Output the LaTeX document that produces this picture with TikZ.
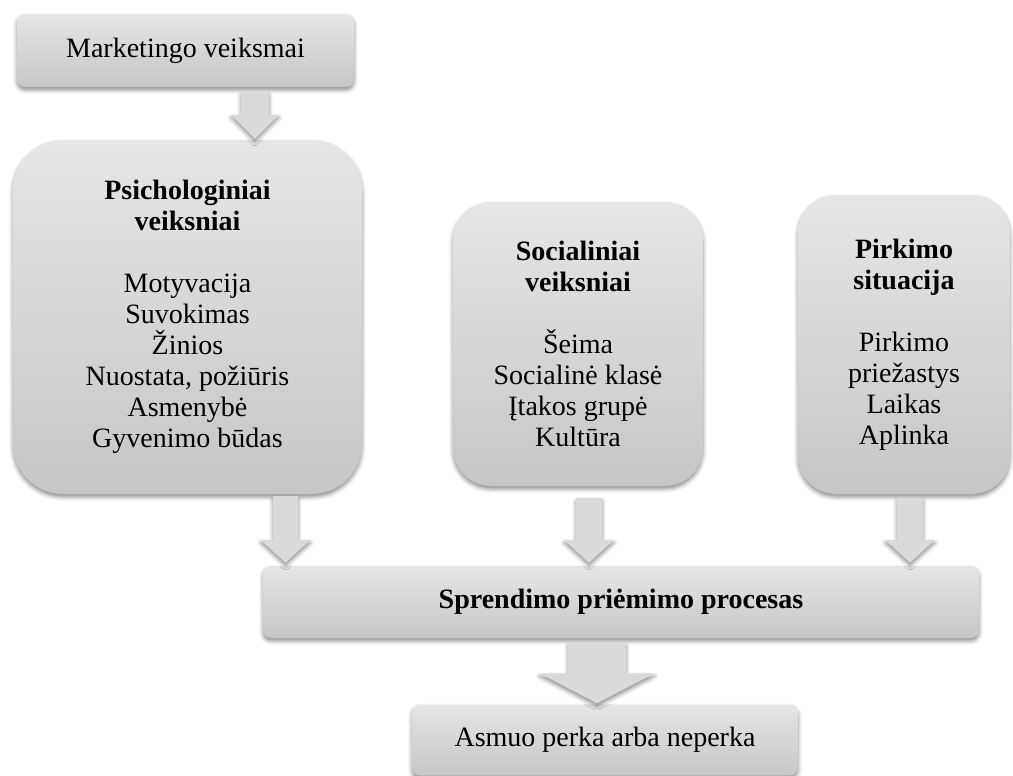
\documentclass[tikz,border=0pt]{standalone}
\usepackage{fontspec}
\setmainfont{Liberation Serif}
\usetikzlibrary{calc,shadows.blur}

\definecolor{boxtop}{HTML}{E6E6E6}
\definecolor{boxbottom}{HTML}{C6C6C6}
\definecolor{arrowgray}{HTML}{DADADA}

\tikzset{
  softshadow/.style={blur shadow={shadow xshift=0pt, shadow yshift=-3pt,
      shadow blur radius=4pt, shadow opacity=45}},
  factorbox/.style={rectangle, draw=none, inner sep=0pt, align=center,
      top color=boxtop, bottom color=boxbottom, softshadow,
      font=\fontsize{28}{31}\selectfont},
  blockarrow/.style={fill=arrowgray, draw=none, softshadow}
}

% block arrow pointing down: #1 start, #2 tip, #3 half shaft, #4 half head, #5 head length
\newcommand\blockdown[5]{%
  \path[blockarrow] let \p1=(#1), \p2=(#2) in
    (\x1-#3,\y1) -- (\x1+#3,\y1) -- (\x1+#3,\y2+#5) -- (\x1+#4,\y2+#5)
    -- (\x1,\y2) -- (\x1-#4,\y2+#5) -- (\x1-#3,\y2+#5) -- cycle;}

\begin{document}
\begin{tikzpicture}[x=1pt,y=-1pt]
  \useasboundingbox (0,0) rectangle (1013,776);

  % boxes
  \node[factorbox, minimum width=337pt, minimum height=73pt, rounded corners=8pt]
    (mk) at (185.5,50.5) {Marketingo veiksmai};
  \node[factorbox, minimum width=349pt, minimum height=354pt, rounded corners=50pt]
    (psy) at (187.5,317) {\textbf{Psichologiniai}\\\textbf{veiksniai}\\[31pt]
      Motyvacija\\Suvokimas\\Žinios\\Nuostata, požiūris\\Asmenybė\\Gyvenimo būdas};
  \node[factorbox, minimum width=250pt, minimum height=284pt, rounded corners=38pt]
    (soc) at (578,344) {\textbf{Socialiniai}\\\textbf{veiksniai}\\[31pt]
      Šeima\\Socialinė klasė\\Įtakos grupė\\Kultūra};
  \node[factorbox, minimum width=212pt, minimum height=299pt, rounded corners=38pt]
    (pir) at (904,344.5) {\textbf{Pirkimo}\\\textbf{situacija}\\[31pt]
      Pirkimo\\priežastys\\Laikas\\Aplinka};
  \node[factorbox, minimum width=716pt, minimum height=72pt, rounded corners=8pt]
    (sp) at (621,602) {\textbf{Sprendimo priėmimo procesas}};
  \node[factorbox, minimum width=386pt, minimum height=71pt, rounded corners=8pt]
    (as) at (605,740) {Asmuo perka arba neperka};

  % arrow axes
  \coordinate (x1) at (255,0);
  \coordinate (x2) at (285.5,0);
  \coordinate (x3) at (589,0);
  \coordinate (x4) at (910,0);
  \coordinate (x5) at (597,0);

  \coordinate (a1s) at ($(mk.south -| x1)+(0,5)$);
  \coordinate (a1t) at ($(psy.north -| x1)+(0,-1)$);
  \coordinate (a2s) at ($(psy.south -| x2)+(0,2)$);
  \coordinate (a2t) at ($(sp.north -| x2)+(0,-3)$);
  \coordinate (a3s) at ($(soc.south -| x3)+(0,12)$);
  \coordinate (a3t) at ($(sp.north -| x3)+(0,-3)$);
  \coordinate (a4s) at ($(pir.south -| x4)+(0,4)$);
  \coordinate (a4t) at ($(sp.north -| x4)+(0,-3)$);
  \coordinate (a5s) at ($(sp.south -| x5)+(0,5)$);
  \coordinate (a5t) at ($(as.north -| x5)+(0,-1)$);

  % arrows
  \blockdown{a1s}{a1t}{14pt}{24pt}{24pt}
  \blockdown{a2s}{a2t}{12.5pt}{25pt}{23pt}
  \blockdown{a3s}{a3t}{13pt}{25pt}{23pt}
  \blockdown{a4s}{a4t}{13pt}{25pt}{23pt}
  \blockdown{a5s}{a5t}{29pt}{57.5pt}{30pt}
\end{tikzpicture}
\end{document}
